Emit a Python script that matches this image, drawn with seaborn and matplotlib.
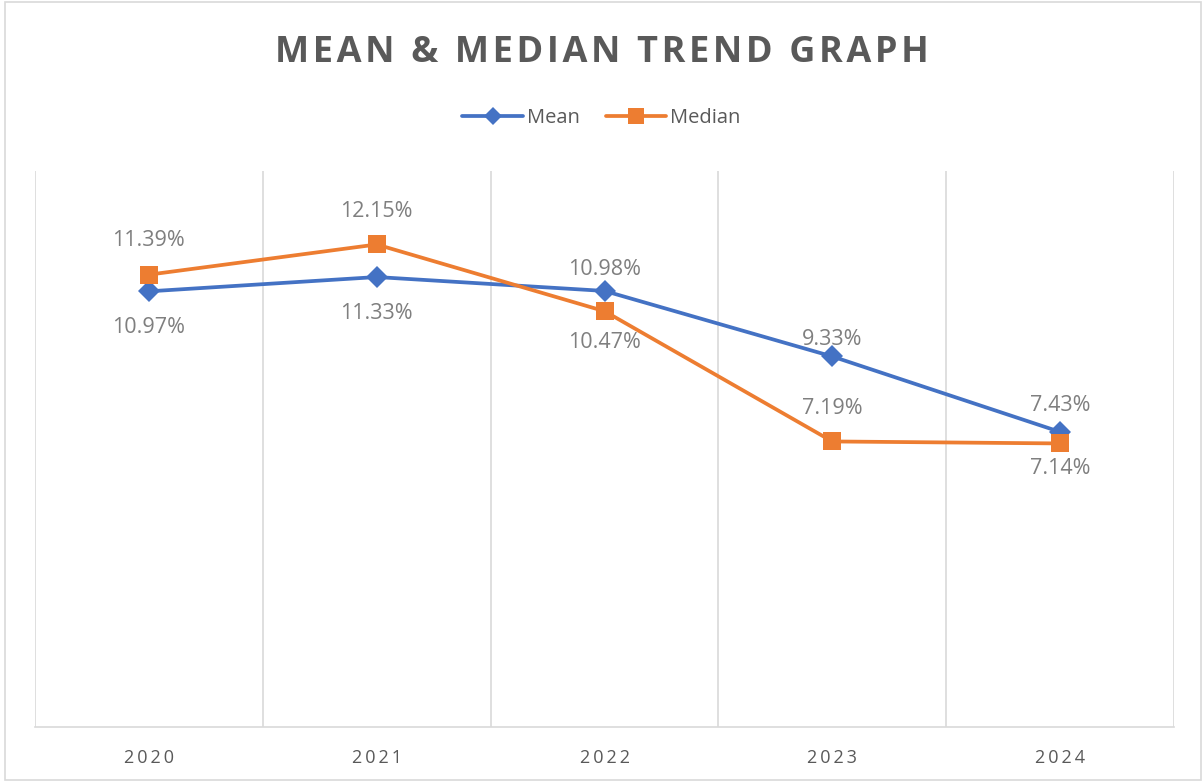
import matplotlib
matplotlib.use("Agg")
import matplotlib.pyplot as plt
import seaborn as sns
import pandas as pd
from matplotlib.patches import Rectangle
from matplotlib.lines import Line2D

years = ["2020", "2021", "2022", "2023", "2024"]
mean_vals = [10.97, 11.33, 10.98, 9.33, 7.43]
median_vals = [11.39, 12.15, 10.47, 7.19, 7.14]
# label offsets in pixels (positive = above the point)
mean_label_off = [-36, -36, 21, 17, 26]
median_label_off = [34, 33, -31, 33, -25]

sns.set_theme(style="white")
plt.rcParams['font.family'] = ['Open Sans', 'DejaVu Sans']

df = pd.DataFrame({
    "Year": years * 2,
    "Value": mean_vals + median_vals,
    "Series": ["Mean"] * len(years) + ["Median"] * len(years),
})

fig = plt.figure(figsize=(12.03, 7.82), dpi=100)
ax = fig.add_axes([35/1203, 1 - 727/782, (1174 - 35)/1203, (727 - 171)/782])

palette = {"Mean": "#4472C4", "Median": "#ED7D31"}
markers = {"Mean": "D", "Median": "s"}
sizes_ms = {"Mean": 11, "Median": 12.5}
for name in ["Mean", "Median"]:
    sub = df[df["Series"] == name]
    sns.lineplot(data=sub, x="Year", y="Value", color=palette[name], marker=markers[name],
                 ax=ax, linewidth=2.7, markersize=sizes_ms[name], markeredgewidth=0,
                 legend=False, sort=False)

ax.set_xlim(-0.5, len(years) - 0.5)
ax.set_ylim(0, 14)
ax.set_yticks([])
ax.set_xticks(range(len(years)))
ax.set_xticklabels(["\u2009".join(y) for y in years], color="#595959", fontsize=13)
ax.tick_params(axis="x", length=0, pad=16)
ax.set_xlabel("")
ax.set_ylabel("")

for i in range(len(years) + 1):
    ax.axvline(i - 0.5, color="#d9d9d9", linewidth=1.2, zorder=0)
for s in ["top", "left", "right"]:
    ax.spines[s].set_visible(False)
ax.spines["bottom"].set_color("#d9d9d9")
ax.spines["bottom"].set_linewidth(1.2)

def label(vals, offs):
    for i, (v, o) in enumerate(zip(vals, offs)):
        ax.annotate(f"{v:.2f}%", (i, v), xytext=(0, o), textcoords="offset pixels",
                    ha="center", va="center", fontsize=15.5, color="#7f7f7f")

label(mean_vals, mean_label_off)
label(median_vals, median_label_off)

fig.text(0.5, 1 - 53/782, "\u200a".join("MEAN & MEDIAN TREND GRAPH"), ha="center", va="center",
         fontsize=26, fontweight="bold", color="#595959")

handles = [
    Line2D([], [], color="#4472C4", marker="D", linewidth=2.7, markersize=9, markeredgewidth=0),
    Line2D([], [], color="#ED7D31", marker="s", linewidth=2.7, markersize=11, markeredgewidth=0),
]
fig.legend(handles, ["Mean", "Median"], loc="center", bbox_to_anchor=(0.5, 1 - 118/782),
           ncol=2, frameon=False, fontsize=14.5, labelcolor="#595959",
           handlelength=3, handletextpad=0.2, columnspacing=1.3)

fig.patches.append(Rectangle((5/1203, 0.002), 1 - 7/1203, 0.995, transform=fig.transFigure,
                             fill=False, edgecolor="#d9d9d9", linewidth=1.2))

fig.savefig("out.png", dpi=100)
